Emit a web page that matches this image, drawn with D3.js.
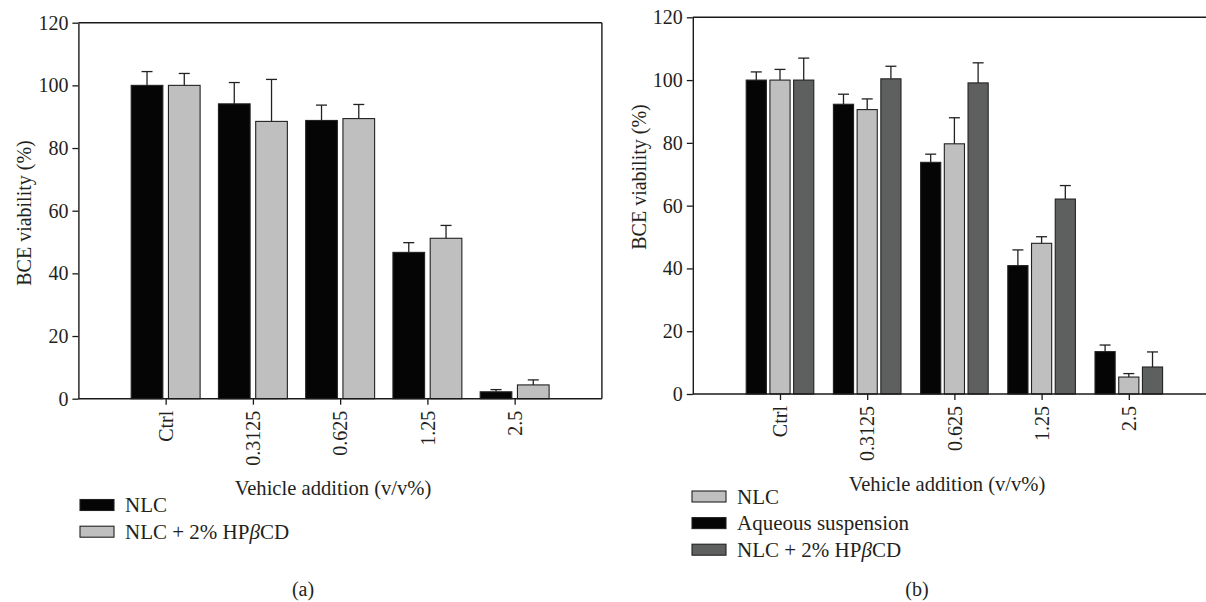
<!DOCTYPE html>
<html>
<head>
<meta charset="utf-8">
<script src="https://cdn.jsdelivr.net/npm/d3@7"></script>
<style>
  html, body { margin: 0; padding: 0; background: #fff; }
  svg { display: block; }
</style>
</head>
<body>
<svg id="chart" width="1206" height="602"></svg>
<script>
// ---------- data ----------
const categories = ["Ctrl", "0.3125", "0.625", "1.25", "2.5"];
const yTicks = [0, 20, 40, 60, 80, 100, 120];

// Panel (a)
const aNLC      = [100, 94.1, 88.8, 46.7, 2.2];
const aNLCErr   = [4.4, 6.8, 4.9, 3.1, 0.7];
const aHP       = [100, 88.5, 89.4, 51.2, 4.4];
const aHPErr    = [3.8, 13.4, 4.5, 4.1, 1.6];

// Panel (b)
const bAqueous    = [100, 92.3, 73.8, 40.9, 13.5];
const bAqueousErr = [2.6, 3.2, 2.6, 5.0, 2.1];
const bNLC        = [100, 90.6, 79.7, 48.0, 5.4];
const bNLCErr     = [3.4, 3.4, 8.3, 2.1, 1.1];
const bHP         = [100, 100.4, 99.1, 62.1, 8.6];
const bHPErr      = [7.0, 4.0, 6.4, 4.3, 4.8];

const xTitle = "Vehicle addition (v/v%)";
const yTitle = "BCE viability (%)";

// ---------- drawing ----------
const FONT = "Liberation Serif";
const TXT = "#231f20";
const svg = d3.select("#chart");
svg.append("rect").attr("width", 1206).attr("height", 602).attr("fill", "#fff");

const COL = { black: "#050505", light: "#bfbfbf", dark: "#5e605f" };

function serif(sel, size) {
  return sel.style("font-family", FONT).style("font-size", size + "px").style("fill", TXT);
}

function panel(cfg) {
  const g = svg.append("g");
  const x = d3.scalePoint().domain(categories).range([cfg.x0, cfg.x1]).padding(1);
  const y = d3.scaleLinear().domain([0, 120]).range([cfg.y0, cfg.y1]);
  const groupW = x.step() * cfg.groupFrac;
  const sub = d3.scaleBand().domain(cfg.series.map(s => s.key))
    .range([-groupW / 2, groupW / 2]).paddingInner(0.15);

  // frame (top + right)
  g.append("line").attr("x1", cfg.x0).attr("x2", cfg.x1).attr("y1", y(120)).attr("y2", y(120))
    .attr("stroke", "#1a1a1a").attr("stroke-width", 1.4);
  g.append("line").attr("x1", cfg.x1).attr("x2", cfg.x1).attr("y1", y(120)).attr("y2", y(0))
    .attr("stroke", "#1a1a1a").attr("stroke-width", 1.4);

  // bars + error bars
  cfg.series.forEach(s => {
    const sg = g.append("g");
    categories.forEach((c, i) => {
      const cx = x(c) + sub(s.key);
      const bw = sub.bandwidth();
      const v = s.values[i], e = s.err[i];
      sg.append("rect")
        .attr("x", cx).attr("y", y(v))
        .attr("width", bw).attr("height", y(0) - y(v))
        .attr("fill", s.color).attr("stroke", "#222").attr("stroke-width", 1.1);
      const mx = cx + bw / 2;
      sg.append("line").attr("x1", mx).attr("x2", mx).attr("y1", y(v)).attr("y2", y(v + e))
        .attr("stroke", "#222").attr("stroke-width", 1.3);
      sg.append("line").attr("x1", mx - 5.5).attr("x2", mx + 5.5).attr("y1", y(v + e)).attr("y2", y(v + e))
        .attr("stroke", "#222").attr("stroke-width", 1.3);
    });
  });

  // y axis
  const ya = g.append("g").attr("transform", `translate(${cfg.x0},0)`)
    .call(d3.axisLeft(y).tickValues(yTicks).tickSize(6).tickPadding(4).tickSizeOuter(0));
  ya.select(".domain").attr("stroke", "#1a1a1a").attr("stroke-width", 1.4);
  ya.selectAll(".tick line").attr("stroke", "#1a1a1a").attr("stroke-width", 1.3);
  serif(ya.selectAll(".tick text"), 20);

  // x axis
  const xa = g.append("g").attr("transform", `translate(0,${y(0)})`)
    .call(d3.axisBottom(x).tickSize(6).tickSizeOuter(0));
  xa.select(".domain").attr("stroke", "#1a1a1a").attr("stroke-width", 1.4)
    .attr("d", `M${cfg.x0},0H${cfg.x1}`);
  xa.selectAll(".tick line").attr("stroke", "#1a1a1a").attr("stroke-width", 1.3);
  serif(xa.selectAll(".tick text"), 20)
    .attr("text-anchor", "end")
    .attr("transform", "translate(0,12) rotate(-90)")
    .attr("x", 0).attr("y", 0).attr("dy", "0.33em");

  // titles
  serif(g.append("text"), 20.6).attr("x", cfg.xTitleX).attr("y", cfg.xTitleY)
    .attr("text-anchor", "middle").text(xTitle);
  serif(g.append("text"), 20).attr("transform", `translate(${cfg.yTitleX},${cfg.yTitleY}) rotate(-90)`)
    .attr("text-anchor", "middle").attr("dy", "0.35em").text(yTitle);

  // legend
  const lg = g.append("g");
  cfg.legend.forEach((L, i) => {
    const ly = cfg.legY + i * cfg.legStep;
    lg.append("rect").attr("x", cfg.legX).attr("y", ly - 5.5).attr("width", 34).attr("height", 11)
      .attr("fill", L.color).attr("stroke", "#222").attr("stroke-width", 1.1);
    const t = serif(lg.append("text"), 21).attr("x", cfg.legX + 45).attr("y", ly).attr("dy", "0.35em");
    L.parts.forEach(p => t.append("tspan").style("font-style", p.italic ? "italic" : "normal").text(p.t));
  });

  serif(g.append("text"), 20).attr("x", cfg.capX).attr("y", 596).attr("text-anchor", "middle")
    .text(cfg.caption);
}

const hpParts = [{ t: "NLC + 2% HP" }, { t: "β", italic: true }, { t: "CD" }];

panel({
  x0: 78.4, x1: 601.9, y0: 398.7, y1: 22.7, groupFrac: 0.79,
  series: [
    { key: "NLC", values: aNLC, err: aNLCErr, color: COL.black },
    { key: "HP", values: aHP, err: aHPErr, color: COL.light }
  ],
  xTitleX: 333, xTitleY: 495, yTitleX: 24, yTitleY: 213,
  legX: 80, legY: 505, legStep: 26.7,
  legend: [
    { color: COL.black, parts: [{ t: "NLC" }] },
    { color: COL.light, parts: hpParts }
  ],
  capX: 303, caption: "(a)"
});

panel({
  x0: 692.8, x1: 1216, y0: 394, y1: 17.3, groupFrac: 0.775,
  series: [
    { key: "Aq", values: bAqueous, err: bAqueousErr, color: COL.black },
    { key: "NLC", values: bNLC, err: bNLCErr, color: COL.light },
    { key: "HP", values: bHP, err: bHPErr, color: COL.dark }
  ],
  xTitleX: 947, xTitleY: 491, yTitleX: 639, yTitleY: 177,
  legX: 692, legY: 496.5, legStep: 26.6,
  legend: [
    { color: COL.light, parts: [{ t: "NLC" }] },
    { color: COL.black, parts: [{ t: "Aqueous suspension" }] },
    { color: COL.dark, parts: hpParts }
  ],
  capX: 917, caption: "(b)"
});
</script>
</body>
</html>
